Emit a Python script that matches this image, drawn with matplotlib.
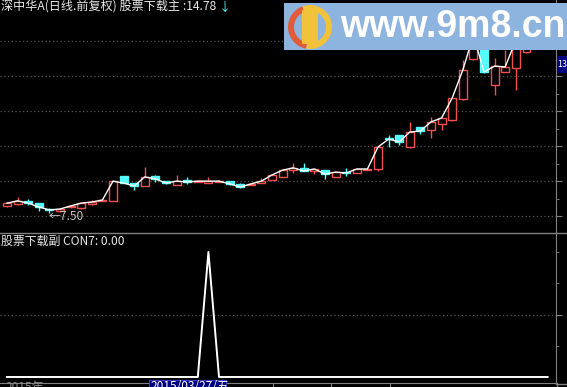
import matplotlib
matplotlib.use("Agg")
import matplotlib.pyplot as plt
from matplotlib.patches import Rectangle, Wedge, FancyBboxPatch

plt.rcParams['font.family'] = ['Noto Sans CJK SC', 'DejaVu Sans']

# daily bars (one entry per trading day)
opens  = [7.75, 7.82, 7.93, 7.85, 7.64, 7.57, 7.71, 7.68, 7.82, 7.93,
          7.93, 8.81, 8.56, 8.46, 8.81, 8.63, 8.49, 8.67, 8.60, 8.56,
          8.60, 8.63, 8.53, 8.49, 8.56, 8.67, 8.78, 9.02, 9.10, 8.99,
          9.02, 8.78, 8.95, 8.92, 9.02, 9.06, 10.16, 10.27, 9.84, 10.55,
          10.44, 10.66, 10.80, 11.54, 12.96, 14.17, 12.04, 12.50, 12.64, 13.21,
          13.35, 13.56]
highs  = [7.89, 8.07, 8.00, 7.87, 7.68, 7.66, 7.78, 7.86, 7.96, 8.00,
          8.64, 8.82, 8.57, 9.13, 8.85, 8.64, 8.85, 8.78, 8.67, 8.78,
          8.67, 8.64, 8.56, 8.54, 8.74, 8.86, 9.06, 9.27, 9.27, 9.07,
          9.03, 8.96, 9.10, 9.07, 9.07, 9.85, 10.27, 10.28, 10.73, 10.56,
          10.90, 10.88, 11.59, 12.93, 14.06, 14.78, 13.00, 13.28, 13.99, 13.71,
          13.81, 13.71]
lows   = [7.71, 7.80, 7.78, 7.57, 7.50, 7.53, 7.68, 7.64, 7.78, 7.92,
          7.92, 8.55, 8.32, 8.45, 8.60, 8.53, 8.48, 8.53, 8.59, 8.55,
          8.59, 8.49, 8.39, 8.48, 8.55, 8.66, 8.77, 8.92, 8.98, 8.88,
          8.71, 8.77, 8.81, 8.91, 9.01, 8.99, 9.84, 9.91, 9.80, 10.30,
          10.16, 10.44, 10.76, 11.51, 12.93, 12.46, 11.68, 12.49, 11.86, 13.17,
          13.32, 13.32]
closes = [7.85, 7.93, 7.85, 7.71, 7.61, 7.64, 7.75, 7.85, 7.89, 7.96,
          8.63, 8.56, 8.46, 8.78, 8.71, 8.56, 8.63, 8.60, 8.63, 8.63,
          8.63, 8.53, 8.42, 8.53, 8.63, 8.85, 9.02, 9.10, 8.99, 9.06,
          8.88, 8.95, 8.92, 9.06, 9.06, 9.84, 10.12, 10.02, 10.37, 10.41,
          10.73, 10.87, 11.58, 12.57, 13.81, 12.50, 12.71, 12.68, 13.63, 13.46,
          13.56, 13.39]
# sub indicator CON7
con7   = [0, 0, 0, 0, 0, 0, 0, 0, 0, 0,
          0, 0, 0, 0, 0, 0, 0, 0, 0, 1,
          0, 0, 0, 0, 0, 0, 0, 0, 0, 0,
          0, 0, 0, 0, 0, 0, 0, 0, 0, 0,
          0, 0, 0, 0, 0, 0, 0, 0, 0, 0,
          0, 0]

title_text = "深中华A(日线.前复权) 股票下载主 :14.78"
sub_text = "股票下载副 CON7: 0.00"
cursor_date = "2015/03/27/五"
year_label = "2015年"
price_grid = [7.39, 8.63, 9.87, 11.11, 12.35, 13.59]
month_ticks = [25.1, 30.6, 36.1]

W, H = 567, 387
UP = '#f05050'
DOWN = '#54fcfc'
GRID = '#555555'
AXIS = '#808080'
TXT = '#e8e8e8'


def px_rect(x0, y0, x1, y1):
    # pixel box (origin top-left) -> figure fraction rect
    return [x0 / W, 1 - y1 / H, (x1 - x0) / W, (y1 - y0) / H]


def draw_candles(ax, o, h, l, c):
    for i in range(len(o)):
        up = c[i] >= o[i]
        col = UP if up else DOWN
        lo, hi = min(o[i], c[i]), max(o[i], c[i])
        ax.vlines(i, l[i], h[i], color=col, lw=1, zorder=2)
        ax.add_patch(Rectangle((i - 0.37, lo), 0.74, hi - lo,
                               facecolor='black' if up else col,
                               edgecolor=col, lw=1, zorder=3))


fig = plt.figure(figsize=(W / 100, H / 100), dpi=100, facecolor='black')

# main panel
ax1 = fig.add_axes(px_rect(0, 0, 556, 232), facecolor='black')
draw_candles(ax1, opens, highs, lows, closes)
ax1.plot(range(len(closes)), closes, color='white', lw=1, zorder=4)
ax1.set_xlim(-0.66, 51.79)
ax1.set_ylim(6.826, 15.053)
ax1.yaxis.tick_right()
ax1.set_yticks(price_grid)
ax1.set_yticks([p + 0.62 for p in price_grid[:-1]], minor=True)
ax1.set_yticklabels([])
ax1.set_xticks([])
ax1.tick_params(axis='y', which='major', colors=AXIS, length=4)
ax1.tick_params(axis='y', which='minor', colors=AXIS, length=2)
ax1.grid(axis='y', color=GRID, linestyle=(0, (1, 2)), lw=0.9)
for s in ['top', 'left', 'bottom']:
    ax1.spines[s].set_visible(False)
ax1.spines['right'].set_color(AXIS)

# lowest price marker
i_low = lows.index(min(lows))
ax1.annotate(f"←{min(lows):.2f}", xy=(i_low, min(lows)), xytext=(-1, -4),
             textcoords='offset pixels', ha='left', va='center',
             color='#c8c8c8', fontsize=8.6)

# sub panel
ax2 = fig.add_axes(px_rect(0, 232, 556, 383), facecolor='black')
ax2.plot(range(len(con7)), con7, color='white', lw=1.4)
ax2.set_xlim(-0.66, 51.79)
ax2.set_ylim(-0.048, 1.16)
ax2.yaxis.tick_right()
ax2.set_yticks([0.5])
ax2.set_yticks([0.25, 0.75, 1.0], minor=True)
ax2.set_yticklabels([])
ax2.set_xticks(month_ticks)
ax2.set_xticklabels([])
ax2.tick_params(axis='both', which='major', colors=AXIS, length=4)
ax2.tick_params(axis='y', which='minor', colors=AXIS, length=2)
ax2.grid(axis='y', color=GRID, linestyle=(0, (1, 2)), lw=0.9)
for s in ['top', 'left']:
    ax2.spines[s].set_visible(False)
ax2.spines['right'].set_color(AXIS)
ax2.spines['bottom'].set_color(AXIS)

# overlay in pixel units for labels, frame and watermark
ov = fig.add_axes([0, 0, 1, 1], zorder=10)
ov.set_xlim(0, W)
ov.set_ylim(H, 0)
ov.axis('off')
ov.plot([0, W], [232.5, 232.5], color=AXIS, lw=1)
ov.plot([556.5, 556.5], [383, H], color=AXIS, lw=1)
ov.plot([556, W], [383.5, 383.5], color=AXIS, lw=1)

t = ov.text(1, 7, title_text, color=TXT, fontsize=8.7, va='center', ha='left')
ov.annotate("↓", xy=(1, 0.5), xycoords=t, xytext=(2, 0),
            textcoords='offset points', va='center', ha='left',
            color=DOWN, fontsize=8.7)
ov.text(1, 241, sub_text, color=TXT, fontsize=8.6, va='center', ha='left')

# current price tag on right axis
ov.add_patch(Rectangle((557, 56), 12, 17, facecolor='#000080', edgecolor='none'))
ov.text(557.3, 64.5, "13", color='white', fontsize=6.4, va='center', ha='left')

# date row (cut off at bottom edge, as on the terminal screen)
ov.text(6, 381, year_label, color='#8c8c8c', fontsize=8.6, va='top', ha='left')
ov.add_patch(Rectangle((149, 380), 77, 10, facecolor='#000080',
                       edgecolor='#3a3ac0', lw=0.8))
ov.text(151, 380.5, cursor_date, color='white', fontsize=8.6, va='top', ha='left')

# site watermark
ov.add_patch(Rectangle((284, 3), 283, 47, facecolor='#8db3df', edgecolor='none'))
ov.add_patch(Wedge((310, 27), 22, 100, 250, width=6, facecolor='#e05a3c', edgecolor='none'))
ov.add_patch(Wedge((310, 27), 22, 250, 460, width=6, facecolor='#f2c23a', edgecolor='none'))
ov.add_patch(FancyBboxPatch((303, 11), 14, 32, boxstyle='round,pad=1',
                            facecolor='#f2c23a', edgecolor='none'))
ov.text(566, 27, "www.9m8.cn", color='white', fontsize=27, fontweight='bold',
        family='Liberation Sans', va='center', ha='right')

plt.savefig('out.png', dpi=100, facecolor='black')
